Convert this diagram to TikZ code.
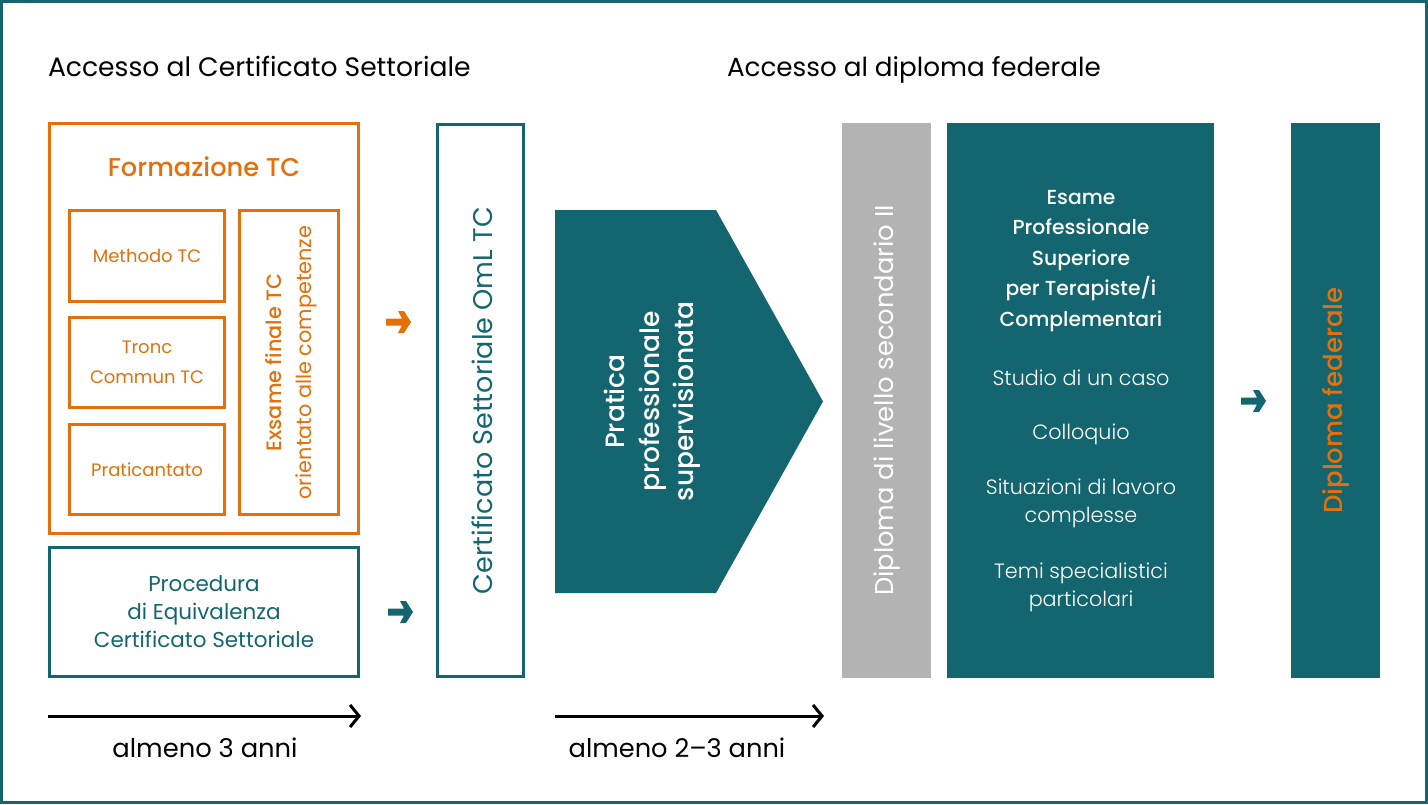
\documentclass[tikz,border=0pt]{standalone}
\usepackage{fontspec}
\setmainfont{Poppins}
\newfontfamily\med{Poppins Medium}
\newfontfamily\lite{Poppins Light}
\usetikzlibrary{arrows.meta}
\definecolor{tealc}{HTML}{13666F}
\definecolor{orangec}{HTML}{E5700A}
\definecolor{greyc}{HTML}{B3B3B3}
\tikzset{
  obox/.style={draw=orangec, line width=3, inner sep=0, outer sep=0},
  tbox/.style={draw=tealc, line width=3, inner sep=0, outer sep=0},
  fbox/.style={inner sep=0, outer sep=0},
  txt/.style={inner sep=0, outer sep=0, align=center},
  smallarr/.pic={\fill (-25,-3.5) -- (-9,-3.5) -- (-13,-11) -- (-7,-11) -- (0,0) -- (-7,11) -- (-13,11) -- (-9,3.5) -- (-25,3.5) -- cycle;},
  timearr/.style={line width=3, -{Straight Barb[length=9,width=22,line width=3]}}
}
\newcommand{\fs}[2]{\fontsize{#1}{#2}\selectfont}
\begin{document}
\begin{tikzpicture}[x=1pt,y=-1pt]
\useasboundingbox (0,0) rectangle (1428,804);
\draw[tealc, line width=3] (1.5,1.5) rectangle (1426.5,802.5);

% titles
\node[txt, anchor=base west, font=\fs{26.6}{30}] (t1) at (48,76) {Accesso al Certificato Settoriale};
\node[txt, anchor=base west, font=\fs{26.2}{30}] (t2) at (727,76) {Accesso al diploma federale};

% Formazione block
\node[obox, minimum width=309, minimum height=410] (form) at (204,328.5) {};
\node[txt, text=orangec, font=\med\fs{25.7}{28}] (formt) at (204,167) {Formazione TC};
\node[obox, minimum width=155, minimum height=91] (meth) at (147,256) {};
\node[txt, text=orangec, font=\fs{18}{30}] at (meth) {Methodo TC};
\node[obox, minimum width=155, minimum height=90] (tronc) at (147,362.5) {};
\node[txt, text=orangec, font=\fs{18}{30}] at (tronc) {Tronc\\Commun TC};
\node[obox, minimum width=155, minimum height=90] (prat) at (147,469.5) {};
\node[txt, text=orangec, font=\fs{18}{30}] at (prat) {Praticantato};
\node[obox, minimum width=99, minimum height=304] (exs) at (289,362.5) {};
\node[txt, text=orangec, rotate=90, font=\fs{20.8}{30}] at (291,362.5) {{\med Exsame finale TC}\\orientato alle competenze};

% Procedura
\node[tbox, minimum width=309, minimum height=129] (proc) at (204,612) {};
\node[txt, text=tealc, font=\fs{21.5}{28}] at (proc) {Procedura\\di Equivalenza\\Certificato Settoriale};

% small arrows
\pic[orangec] at (411,322) {smallarr};
\pic[tealc] at (413,612) {smallarr};

% Certificato
\node[tbox, minimum width=86, minimum height=552] (cert) at (480.5,400.5) {};
\node[txt, text=tealc, rotate=90, font=\fs{27}{30}] at (482,400.5) {Certificato Settoriale OmL TC};

% Pentagon
\fill[tealc] (555,210) -- (716,210) -- (823,401.5) -- (716,593) -- (555,593) -- cycle;
\coordinate (pent) at (652.5,401.5);
\node[txt, text=white, rotate=90, font=\med\fs{26.5}{34.5}] at (pent) {Pratica\\professionale\\supervisionata};

% grey bar
\node[fbox, fill=greyc, minimum width=89, minimum height=555] (grey) at (886.5,400.5) {};
\node[txt, text=white, rotate=90, font=\fs{25.8}{30}] at (887,400.5) {Diploma di livello secondario II};

% big teal box
\node[fbox, fill=tealc, minimum width=267, minimum height=555] (esame) at (1080.5,400.5) {};
\node[txt, text=white, font=\med\fs{20.3}{30.5}] at (1081,261) {Esame\\Professionale\\Superiore\\per Terapiste/i\\Complementari};
\node[txt, text=white, font=\lite\fs{20.7}{28}] at (1081,378) {Studio di un caso};
\node[txt, text=white, font=\lite\fs{20.7}{28}] at (1081,434) {Colloquio};
\node[txt, text=white, font=\lite\fs{20.7}{28}] at (1081,503) {Situazioni di lavoro\\complesse};
\node[txt, text=white, font=\lite\fs{20.7}{28}] at (1081,587) {Temi specialistici\\particolari};

\pic[tealc] at (1266,401) {smallarr};

% diploma federale
\node[fbox, fill=tealc, minimum width=89, minimum height=555] (dipl) at (1335.5,400.5) {};
\node[txt, text=orangec, rotate=90, font=\med\fs{26}{30}] at (1336,400.5) {Diploma federale};

% time arrows
\coordinate (a1s) at (48,716);
\coordinate (a1e) at (361,716);
\coordinate (a2s) at (555,716);
\coordinate (a2e) at (824,716);
\draw[timearr] (a1s) -- (a1e);
\draw[timearr] (a2s) -- (a2e);
\node[txt, font=\fs{25.8}{28}] (l1) at (205,748) {almeno 3 anni};
\node[txt, font=\fs{25.7}{28}] (l2) at (677,748) {almeno 2–3 anni};
\end{tikzpicture}
\end{document}
